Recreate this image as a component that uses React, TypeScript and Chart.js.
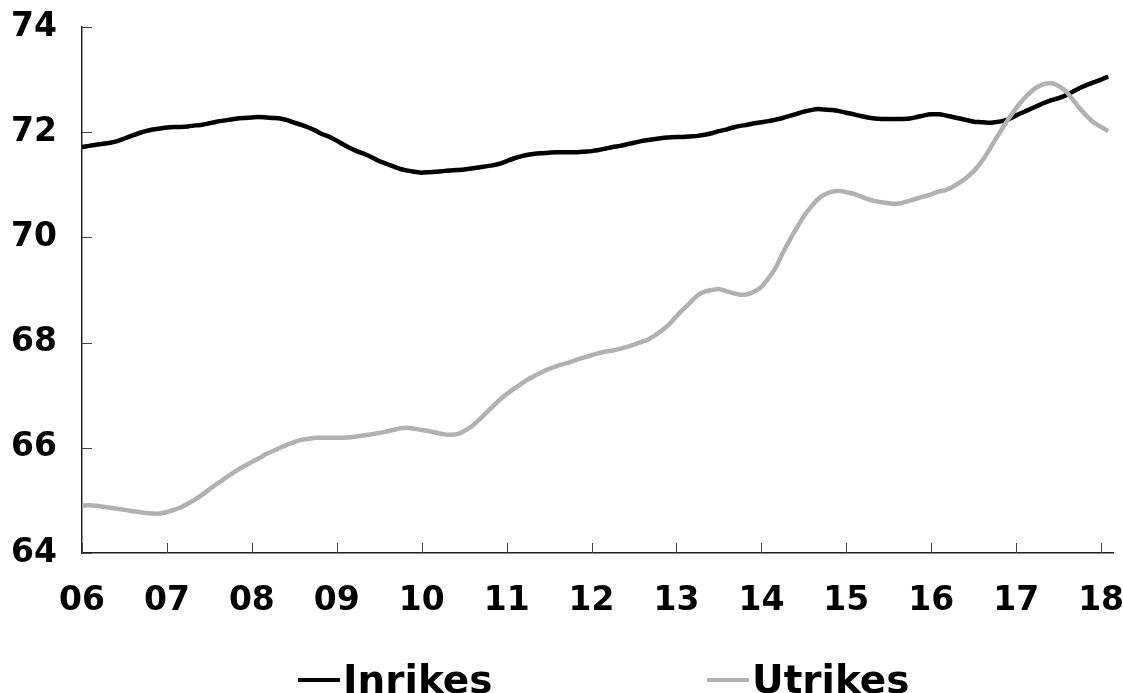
import React, { useEffect, useRef } from "react";
import { Chart, registerables } from "chart.js";

Chart.register(...registerables);

// Year labels for x-axis ticks (January of each year, 2006–2018)
const yearLabels = ["06", "07", "08", "09", "10", "11", "12", "13", "14", "15", "16", "17", "18"];
const yTickValues = [64, 66, 68, 70, 72, 74];

// Monthly values, Jan 2006 – Feb 2018
const inrikes = [
  // 2006
  71.72, 71.74, 71.76, 71.78, 71.8, 71.83, 71.88, 71.93, 71.98, 72.02, 72.05, 72.07,
  // 2007
  72.09, 72.1, 72.1, 72.11, 72.13, 72.14, 72.17, 72.2, 72.22, 72.24, 72.26, 72.27,
  // 2008
  72.28, 72.29, 72.28, 72.27, 72.26, 72.23, 72.18, 72.14, 72.09, 72.03, 71.96, 71.91,
  // 2009
  71.84, 71.76, 71.69, 71.63, 71.58, 71.52, 71.45, 71.4, 71.35, 71.3, 71.27, 71.25,
  // 2010
  71.23, 71.24, 71.25, 71.26, 71.27, 71.28, 71.29, 71.31, 71.33, 71.35, 71.37, 71.4,
  // 2011
  71.45, 71.5, 71.54, 71.57, 71.59, 71.6, 71.61, 71.62, 71.62, 71.62, 71.62, 71.63,
  // 2012
  71.64, 71.66, 71.69, 71.72, 71.74, 71.77, 71.8, 71.83, 71.85, 71.87, 71.89, 71.9,
  // 2013
  71.91, 71.91, 71.92, 71.93, 71.95, 71.98, 72.02, 72.05, 72.09, 72.12, 72.14, 72.17,
  // 2014
  72.19, 72.21, 72.24, 72.27, 72.31, 72.35, 72.39, 72.42, 72.44, 72.43, 72.42, 72.4,
  // 2015
  72.37, 72.34, 72.31, 72.28, 72.26, 72.25, 72.25, 72.25, 72.25, 72.26, 72.29, 72.32,
  // 2016
  72.34, 72.34, 72.32, 72.29, 72.26, 72.23, 72.2, 72.19, 72.18, 72.19, 72.21, 72.25,
  // 2017
  72.32, 72.38, 72.44, 72.5, 72.56, 72.61, 72.65, 72.7, 72.77, 72.84, 72.9, 72.95,
  // 2018
  73.0, 73.06,
];

const utrikes = [
  // 2006
  64.9, 64.91, 64.9, 64.88, 64.86, 64.84, 64.82, 64.8, 64.78, 64.76, 64.75, 64.75,
  // 2007
  64.78, 64.82, 64.87, 64.94, 65.02, 65.11, 65.21, 65.31, 65.4, 65.49, 65.58, 65.66,
  // 2008
  65.73, 65.8, 65.88, 65.94, 66.0, 66.06, 66.11, 66.15, 66.17, 66.19, 66.19, 66.19,
  // 2009
  66.19, 66.19, 66.2, 66.22, 66.24, 66.26, 66.28, 66.31, 66.34, 66.37, 66.38, 66.36,
  // 2010
  66.34, 66.32, 66.29, 66.26, 66.25, 66.26, 66.32, 66.4, 66.52, 66.65, 66.78, 66.91,
  // 2011
  67.02, 67.12, 67.21, 67.3, 67.37, 67.44, 67.5, 67.55, 67.59, 67.63, 67.68, 67.72,
  // 2012
  67.76, 67.8, 67.83, 67.85, 67.88, 67.92, 67.96, 68.01, 68.06, 68.14, 68.24, 68.35,
  // 2013
  68.5, 68.64, 68.77, 68.9, 68.97, 69.0, 69.02, 68.98, 68.94, 68.91, 68.92, 68.97,
  // 2014
  69.06, 69.22, 69.42, 69.7, 69.95, 70.18, 70.4, 70.58, 70.73, 70.82, 70.87, 70.88,
  // 2015
  70.86, 70.83, 70.78, 70.73, 70.69, 70.67, 70.65, 70.64, 70.66, 70.7, 70.74, 70.78,
  // 2016
  70.82, 70.87, 70.9, 70.96, 71.04, 71.14, 71.26, 71.42, 71.62, 71.85, 72.06, 72.27,
  // 2017
  72.46, 72.62, 72.76, 72.86, 72.92, 72.93, 72.88, 72.78, 72.62, 72.45, 72.3, 72.18,
  // 2018
  72.1, 72.02,
];

const seriesNames = ["Inrikes", "Utrikes"];
const seriesColors = ["#000000", "#b2b0b0"];

const FONT = "'DejaVu Sans', Verdana, sans-serif";

const innerTicks = {
  id: "innerTicks",
  beforeDatasetsDraw(chart: any) {
    const { ctx, chartArea, scales } = chart;
    const x = scales.x;
    const y = scales.y;
    ctx.save();
    ctx.strokeStyle = "#444";
    ctx.lineWidth = 1;
    ctx.beginPath();
    y.ticks.forEach((t: any) => {
      const py = Math.round(y.getPixelForValue(t.value)) + 0.5;
      ctx.moveTo(chartArea.left, py);
      ctx.lineTo(chartArea.left + 10, py);
    });
    x.ticks.forEach((t: any) => {
      const px = Math.round(x.getPixelForValue(t.value)) + 0.5;
      ctx.moveTo(px, chartArea.bottom);
      ctx.lineTo(px, chartArea.bottom - 10);
    });
    ctx.stroke();
    ctx.restore();
  },
};

export default function App() {
  const ref = useRef<HTMLCanvasElement>(null);

  useEffect(() => {
    if (!ref.current) return;
    const toPoints = (arr: number[]) => arr.map((v, i) => ({ x: i / 12, y: v }));
    const chart = new Chart(ref.current, {
      type: "line",
      data: {
        datasets: [
          {
            label: seriesNames[0],
            data: toPoints(inrikes),
            borderColor: seriesColors[0],
            backgroundColor: seriesColors[0],
            borderWidth: 4.5,
            pointRadius: 0,
            tension: 0.2,
            order: 1,
          },
          {
            label: seriesNames[1],
            data: toPoints(utrikes),
            borderColor: seriesColors[1],
            backgroundColor: seriesColors[1],
            borderWidth: 4.5,
            pointRadius: 0,
            tension: 0.2,
            order: 0,
          },
        ],
      },
      options: {
        animation: false,
        responsive: false,
        maintainAspectRatio: false,
        layout: { padding: { top: 27, right: 10, bottom: 70, left: 0 } },
        plugins: {
          legend: { display: false },
          tooltip: { enabled: false },
          title: { display: false },
        },
        scales: {
          x: {
            type: "linear",
            min: 0,
            max: 12.14,
            grid: { display: false, drawTicks: false },
            border: { display: true, color: "#222", width: 1.5 },
            afterBuildTicks: (scale: any) => {
              scale.ticks = yearLabels.map((_, i) => ({ value: i }));
            },
            afterFit: (scale: any) => {
              scale.height = 70;
              scale.paddingLeft = 0;
              scale.paddingRight = 0;
            },
            ticks: {
              autoSkip: false,
              maxRotation: 0,
              padding: 29,
              color: "#000",
              font: { family: FONT, size: 33, weight: "bold" },
              callback: (v: any) => yearLabels[Math.round(v)] ?? "",
            },
          },
          y: {
            min: 64,
            max: 74,
            grid: { display: false, drawTicks: false },
            border: { display: true, color: "#222", width: 1.5 },
            afterBuildTicks: (scale: any) => {
              scale.ticks = yTickValues.map((v) => ({ value: v }));
            },
            afterFit: (scale: any) => {
              scale.width = 82;
              scale.paddingTop = 0;
              scale.paddingBottom = 0;
            },
            ticks: {
              padding: 25,
              color: "#000",
              font: { family: FONT, size: 33, weight: "bold" },
              callback: (v: any) => String(v),
            },
          },
        },
      },
      plugins: [innerTicks],
    });
    return () => chart.destroy();
  }, []);

  const legendItem = (name: string, color: string, left: number) => (
    <div
      style={{
        position: "absolute",
        left,
        top: 659,
        display: "flex",
        alignItems: "center",
        fontFamily: FONT,
        fontWeight: "bold",
        fontSize: 39,
        color: "#000",
        lineHeight: "42px",
      }}
    >
      <span style={{ display: "inline-block", width: 42, height: 4, background: color, marginRight: 3 }} />
      <span>{name}</span>
    </div>
  );

  return (
    <div style={{ position: "fixed", left: 0, top: 0, width: 1123, height: 693, background: "#fff" }}>
      <canvas ref={ref} width={1123} height={693} style={{ display: "block", width: 1123, height: 693 }} />
      {legendItem(seriesNames[0], seriesColors[0], 298)}
      {legendItem(seriesNames[1], seriesColors[1], 707)}
    </div>
  );
}
